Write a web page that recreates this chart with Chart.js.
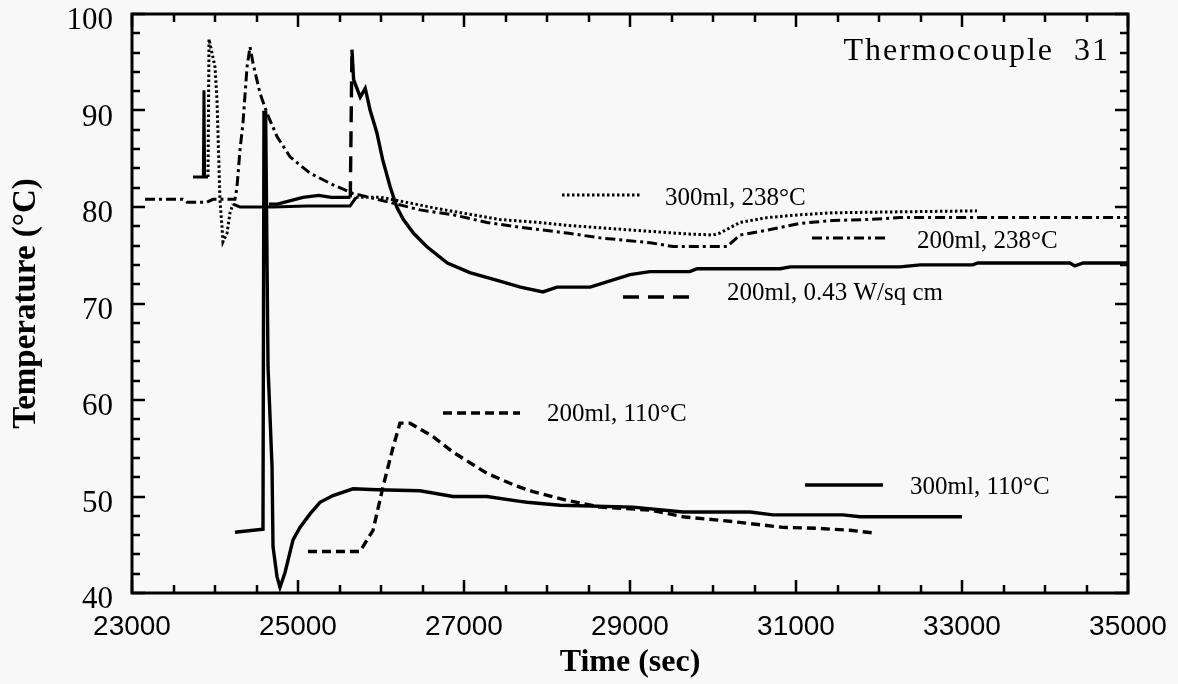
<!DOCTYPE html>
<html>
<head>
<meta charset="utf-8">
<script src="https://cdn.jsdelivr.net/npm/chart.js@4/dist/chart.umd.min.js"></script>
<style>
html,body{margin:0;padding:0;background:#f8f8f8;}
canvas{display:block;}
</style>
</head>
<body>
<canvas id="c" width="1178" height="684"></canvas>
<script>
// ---- axis settings / tick labels ----
const xMin = 23000, xMax = 35000, xLabelStep = 2000, xMinorStep = 500;
const yMin = 40, yMax = 100, yLabelStep = 10, yMinorStep = 2;
const xTitle = 'Time (sec)';
const yTitle = 'Temperature (°C)';
const plotNote = 'Thermocouple 31';

// ---- series: 300ml, 238°C (dotted) ----
const t300hot = [23735, 23860, 23867, 23875, 23916, 23928, 24000, 24024, 24036, 24048, 24060, 24084, 24096, 24145, 24181, 24217, 24301, 24700, 25100, 25627, 25700, 26000, 26300, 26700, 27100, 27434, 27900, 28241, 29036, 29700, 30000, 30084, 30325, 30651, 31048, 31446, 32253, 33181];
const v300hot = [83.1, 83.1, 92.1, 83.1, 83.1, 97.4, 94.5, 91.1, 87.7, 84.2, 80.7, 78.0, 76.4, 77.3, 79.4, 80.3, 80.0, 80.0, 80.1, 80.1, 81.0, 81.0, 80.5, 79.8, 79.2, 78.7, 78.4, 78.1, 77.6, 77.2, 77.1, 77.3, 78.4, 78.9, 79.2, 79.4, 79.5, 79.6];

// ---- series: 200ml, 238°C (dash-dot) ----
const t200hot = [23157, 23614, 23663, 23904, 23976, 24241, 24265, 24301, 24337, 24386, 24422, 24458, 24542, 24627, 24747, 24904, 25145, 25422, 25663, 25904, 26145, 26470, 26867, 27277, 27675, 28241, 28639, 29241, 29518, 30169, 30325, 30651, 31048, 31446, 31855, 32253, 33000, 34000, 35000];
const v200hot = [80.8, 80.8, 80.5, 80.5, 80.8, 80.8, 82.1, 85.9, 88.7, 94.5, 96.6, 94.9, 91.8, 89.7, 87.3, 85.2, 83.5, 82.3, 81.4, 80.9, 80.4, 79.7, 79.2, 78.4, 77.9, 77.3, 76.8, 76.3, 75.9, 75.9, 77.1, 77.6, 78.3, 78.6, 78.7, 78.9, 78.9, 78.9, 78.9];

// ---- series: 200ml, 0.43 W/sq cm (long dash) ----
const t200w = [24650, 24750, 25060, 25250, 25400, 25630, 25650, 25670, 25750, 25810, 25870, 25950, 26020, 26110, 26190, 26270, 26390, 26550, 26800, 27070, 27400, 27680, 27950, 28120, 28520, 29000, 29240, 29720, 29810, 30810, 30930, 32250, 32500, 33130, 33190, 34300, 34360, 34460, 35000];
const v200w = [80.3, 80.3, 81.0, 81.2, 81.0, 81.0, 96.3, 93.2, 91.4, 92.3, 90.0, 87.7, 84.9, 82.1, 80.0, 78.7, 77.3, 75.9, 74.2, 73.2, 72.4, 71.7, 71.2, 71.7, 71.7, 73.0, 73.3, 73.3, 73.6, 73.6, 73.8, 73.8, 74.0, 74.0, 74.2, 74.2, 73.9, 74.2, 74.2];

// ---- series: 200ml, 110°C (short dash) ----
const t200cool = [25120, 25747, 25904, 26024, 26145, 26229, 26349, 26627, 26867, 27277, 27600, 27831, 28241, 28639, 29241, 29639, 30241, 30843, 31253, 31651, 31952];
const v200cool = [44.3, 44.3, 46.5, 51.0, 55.1, 57.6, 57.6, 56.2, 54.6, 52.4, 51.2, 50.5, 49.6, 48.9, 48.6, 47.9, 47.4, 46.8, 46.7, 46.5, 46.2];

// ---- series: 300ml, 110°C (solid) ----
const t300cool = [24241, 24578, 24590, 24610, 24639, 24687, 24699, 24747, 24783, 24843, 24940, 25024, 25145, 25265, 25422, 25663, 25952, 26470, 26867, 27277, 27675, 27759, 28157, 29036, 29639, 30446, 30723, 31566, 31771, 33000];
const v300cool = [46.3, 46.6, 89.8, 89.8, 63.4, 53.1, 44.8, 41.7, 40.6, 42.1, 45.5, 46.8, 48.2, 49.4, 50.1, 50.8, 50.7, 50.6, 50.0, 50.0, 49.5, 49.4, 49.1, 48.9, 48.4, 48.4, 48.1, 48.1, 47.9, 47.9];

const seriesNames = ['300ml, 238°C', '200ml, 238°C', '200ml, 0.43 W/sq cm', '200ml, 110°C', '300ml, 110°C'];

// ---- styles ----
const INK = '#000';
const DOT = [2.5, 2.5];
const DASHDOT = [10, 4, 3, 4];
const LONGDASH = [16, 9];
const SHORTDASH = [9, 5];
const SERIF = '"Liberation Serif", "Times New Roman", serif';
const SANS = '"Liberation Sans", Arial, sans-serif';

const pts = (t, v) => t.map((x, i) => ({x, y: v[i]}));
// densely sampled stretches of the dotted record render as a continuous line
const dottedDash = c => {
  const a = c.p0.parsed.x, b = c.p1.parsed.x;
  if (a < 23900) return [];
  if (a >= 24217 && b <= 25700) return [];
  return DOT;
};

const datasets = [
  {label: seriesNames[0], data: pts(t300hot, v300hot), borderWidth: 3, borderDash: DOT,
   segment: {borderDash: dottedDash}},
  {label: seriesNames[1], data: pts(t200hot, v200hot), borderWidth: 3, borderDash: DASHDOT},
  {label: seriesNames[2], data: pts(t200w, v200w), borderWidth: 3.4,
   segment: {borderDash: c => Math.abs(c.p1.y - c.p0.y) > 60 ? LONGDASH : []}},
  {label: seriesNames[3], data: pts(t200cool, v200cool), borderWidth: 3.4, borderDash: SHORTDASH},
  {label: seriesNames[4], data: pts(t300cool, v300cool), borderWidth: 3.4}
].map(d => Object.assign({borderColor: INK, backgroundColor: INK, pointRadius: 0, tension: 0, fill: false}, d));

// legend entries: sample line [x0, x1, y], text position, dash
const legendItems = [
  {s: [562, 640, 195], tx: 665, ty: 198, dash: DOT, w: 3, text: seriesNames[0]},
  {s: [812, 888, 238], tx: 917, ty: 241, dash: DASHDOT, w: 3, text: seriesNames[1]},
  {s: [623, 697, 297], tx: 727, ty: 293, dash: LONGDASH, w: 3.4, text: seriesNames[2]},
  {s: [443, 520, 413], tx: 547, ty: 414, dash: SHORTDASH, w: 3.4, text: seriesNames[3]},
  {s: [805, 883, 485], tx: 910, ty: 487, dash: [], w: 3.4, text: seriesNames[4]}
];

const framePlugin = {
  id: 'frame',
  afterDraw(chart) {
    const {ctx, chartArea: a, scales: {x, y}} = chart;
    ctx.save();
    ctx.strokeStyle = INK;
    ctx.lineWidth = 3;
    ctx.setLineDash([]);
    ctx.strokeRect(a.left, a.top, a.right - a.left, a.bottom - a.top);
    ctx.lineWidth = 2.5;
    ctx.beginPath();
    for (let v = xMin; v <= xMax; v += xMinorStep) {
      const px = Math.round(x.getPixelForValue(v));
      const len = ((v - xMin) % xLabelStep === 0) ? 13 : 8;
      ctx.moveTo(px, a.bottom); ctx.lineTo(px, a.bottom - len);
      ctx.moveTo(px, a.top); ctx.lineTo(px, a.top + len);
    }
    for (let v = yMin; v <= yMax; v += yMinorStep) {
      const py = Math.round(y.getPixelForValue(v));
      const len = ((v - yMin) % yLabelStep === 0) ? 13 : 8;
      ctx.moveTo(a.left, py); ctx.lineTo(a.left + len, py);
      ctx.moveTo(a.right, py); ctx.lineTo(a.right - len, py);
    }
    ctx.stroke();

    // legend samples and labels
    ctx.fillStyle = INK;
    ctx.textBaseline = 'middle';
    ctx.textAlign = 'left';
    ctx.font = '25px ' + SERIF;
    legendItems.forEach(it => {
      ctx.beginPath();
      ctx.lineWidth = it.w;
      ctx.setLineDash(it.dash);
      ctx.moveTo(it.s[0], it.s[2]); ctx.lineTo(it.s[1], it.s[2]);
      ctx.stroke();
      ctx.fillText(it.text, it.tx, it.ty);
    });
    ctx.setLineDash([]);
    ctx.font = '32px ' + SERIF;
    ctx.textAlign = 'right';
    ctx.letterSpacing = '2px';
    ctx.fillText(plotNote.replace(' ', '  '), 1110, 52);
    ctx.restore();
  }
};

new Chart(document.getElementById('c'), {
  type: 'line',
  data: {datasets},
  plugins: [framePlugin],
  options: {
    responsive: false,
    animation: false,
    devicePixelRatio: 1,
    layout: {padding: {left: 0, top: 14, right: 50, bottom: 0}},
    plugins: {legend: {display: false}, tooltip: {enabled: false}},
    scales: {
      x: {
        type: 'linear', min: xMin, max: xMax,
        grid: {display: false, drawTicks: false},
        border: {display: false},
        ticks: {stepSize: xLabelStep, color: INK, padding: 17, maxRotation: 0,
                font: {family: SANS, size: 28}, callback: v => String(v)},
        title: {display: true, text: xTitle, color: INK, padding: {top: 0, bottom: 2},
                font: {family: SERIF, size: 32, weight: 'bold'}},
        afterFit: s => { s.height = 91; s.paddingLeft = 0; s.paddingRight = 0; }
      },
      y: {
        type: 'linear', min: yMin, max: yMax,
        grid: {display: false, drawTicks: false},
        border: {display: false},
        ticks: {stepSize: yLabelStep, color: INK, padding: 19, labelOffset: 7,
                font: {family: SERIF, size: 31}},
        title: {display: true, text: yTitle, color: INK, padding: {top: 7, bottom: 0},
                font: {family: SERIF, size: 33, weight: 'bold'}},
        afterFit: s => { s.width = 132; s.paddingTop = 0; s.paddingBottom = 0; }
      }
    }
  }
});
</script>
</body>
</html>
